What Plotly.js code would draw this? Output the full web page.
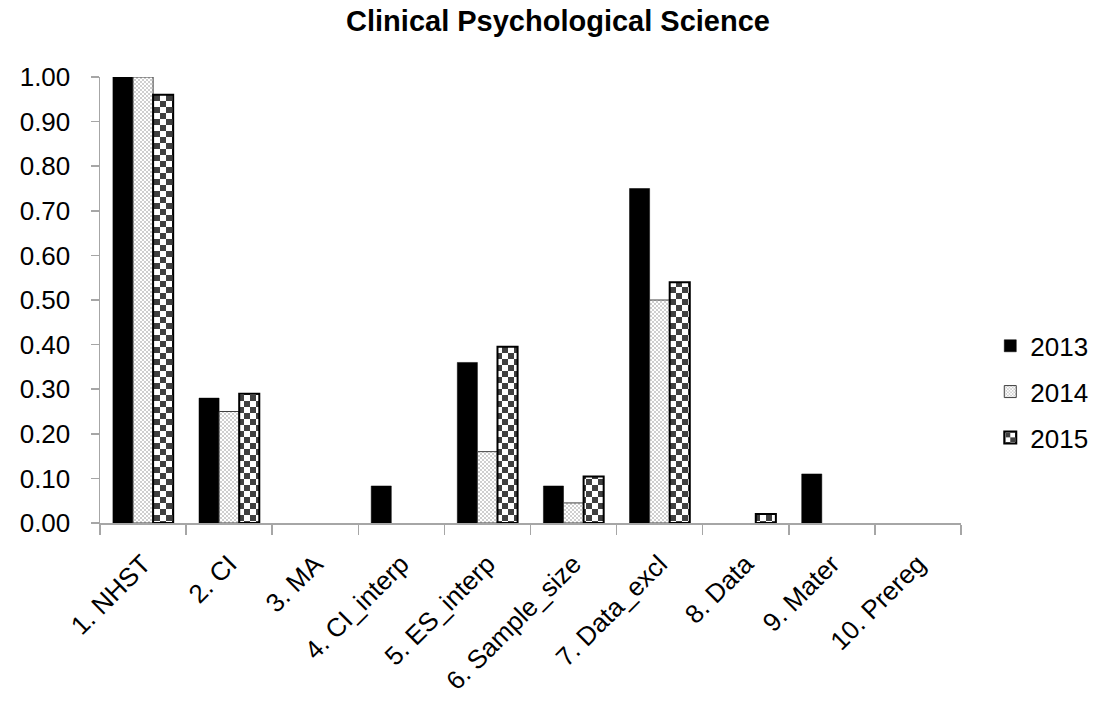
<!DOCTYPE html>
<html>
<head>
<meta charset="utf-8">
<script src="https://cdn.plot.ly/plotly-3.0.1.min.js"></script>
<style>
  html, body { margin: 0; padding: 0; background: #fff; }
  #chart { width: 1105px; height: 717px; }
</style>
</head>
<body>
<div id="chart"></div>
<script>
const categories = ['1. NHST', '2. CI', '3. MA', '4. CI_interp', '5. ES_interp',
  '6. Sample_size', '7. Data_excl', '8. Data', '9. Mater', '10. Prereg'];
const seriesNames = ['2013', '2014', '2015'];
const values2013 = [1.00, 0.28, 0, 0.083, 0.36, 0.083, 0.75, 0, 0.11, 0];
const values2014 = [1.00, 0.25, 0, 0, 0.16, 0.045, 0.50, 0, 0, 0];
const values2015 = [0.96, 0.29, 0, 0, 0.395, 0.104, 0.54, 0.02, 0, 0];
const yTickVals = [0, 0.1, 0.2, 0.3, 0.4, 0.5, 0.6, 0.7, 0.8, 0.9, 1.0];
const yTickText = ['0.00', '0.10', '0.20', '0.30', '0.40', '0.50', '0.60', '0.70', '0.80', '0.90', '1.00'];

const FONT = 'Liberation Sans, Arial, sans-serif';
const C14 = 'rgb(201, 201, 201)';
const C15 = 'rgb(64, 64, 64)';

// outline only on bars that have height (zero bars show nothing, as in the reference)
function outlineWidths(vals, w) { return vals.map(v => (v > 0 ? w : 0)); }

const data = [
  {
    type: 'bar', name: seriesNames[0], x: categories, y: values2013, legendgroup: 'a',
    marker: { color: '#000000', line: { color: '#000000', width: outlineWidths(values2013, 0.5) } }
  },
  {
    type: 'bar', name: seriesNames[1], x: categories, y: values2014, legendgroup: 'b',
    marker: { color: '#ffffff', line: { color: '#404040', width: outlineWidths(values2014, 1) },
      pattern: { shape: '.', fgcolor: C14, bgcolor: '#ffffff', size: 4, solidity: 0.5 } }
  },
  {
    type: 'bar', name: seriesNames[2], x: categories, y: values2015, legendgroup: 'c',
    marker: { color: '#ffffff', line: { color: '#000000', width: outlineWidths(values2015, 2) },
      pattern: { shape: 'x', fgcolor: C15, bgcolor: '#ffffff', size: 12, solidity: 0.5 } }
  }
];

const layout = {
  width: 1105, height: 717,
  margin: { l: 100, r: 144, t: 77, b: 194 },
  paper_bgcolor: '#ffffff', plot_bgcolor: '#ffffff',
  font: { family: FONT, size: 26, color: '#000000' },
  title: {
    text: '<b>Clinical Psychological Science</b>',
    font: { family: FONT, size: 29, color: '#000000' },
    xref: 'container', x: 0.505, xanchor: 'center',
    yref: 'container', y: 0.971, yanchor: 'middle'
  },
  barmode: 'group', bargap: 0.3, bargroupgap: 0,
  showlegend: true,
  legend: {
    x: 1.034, xanchor: 'left', y: 0.294, yanchor: 'middle',
    font: { family: FONT, size: 26, color: '#000000' },
    tracegroupgap: 9, bgcolor: 'rgba(0,0,0,0)'
  },
  xaxis: {
    type: 'category', tickangle: -45, tickson: 'boundaries',
    ticks: 'outside', ticklen: 10, tickcolor: '#a6a6a6', tickwidth: 1.5,
    showline: true, linecolor: '#a6a6a6', linewidth: 1.5,
    showgrid: false, zeroline: false, ticklabelstandoff: 14,
    tickfont: { family: FONT, size: 26, color: '#000000' }
  },
  yaxis: {
    range: [0, 1.0], tickvals: yTickVals, ticktext: yTickText,
    ticks: 'outside', ticklen: 8, tickcolor: '#a6a6a6', tickwidth: 1.5,
    showline: true, linecolor: '#a6a6a6', linewidth: 1.5,
    showgrid: false, zeroline: false, ticklabelstandoff: 15,
    tickfont: { family: FONT, size: 26, color: '#000000' }
  }
};

function rebuildPattern(p, size, color) {
  const NS = 'http://www.w3.org/2000/svg';
  while (p.firstChild) p.removeChild(p.firstChild);
  p.setAttribute('width', size);
  p.setAttribute('height', size);
  p.setAttribute('patternUnits', 'userSpaceOnUse');
  const h = size / 2;
  const rects = [[0, 0, size, size, '#ffffff'], [0, 0, h, h, color], [h, h, h, h, color]];
  rects.forEach(r => {
    const el = document.createElementNS(NS, 'rect');
    el.setAttribute('x', r[0]); el.setAttribute('y', r[1]);
    el.setAttribute('width', r[2]); el.setAttribute('height', r[3]);
    el.setAttribute('fill', r[4]);
    p.appendChild(el);
  });
}

function applyCheckers() {
  document.querySelectorAll('pattern').forEach(p => {
    const s = p.outerHTML;
    if (s.indexOf('64, 64, 64') >= 0 || s.indexOf('#404040') >= 0) {
      rebuildPattern(p, 12, '#404040');
    } else if (s.indexOf('201, 201, 201') >= 0 || s.indexOf('#c9c9c9') >= 0) {
      rebuildPattern(p, 4, '#cfcfcf');
    }
  });
}

Plotly.newPlot('chart', data, layout, { staticPlot: true, displayModeBar: false })
  .then(applyCheckers);
</script>
</body>
</html>
